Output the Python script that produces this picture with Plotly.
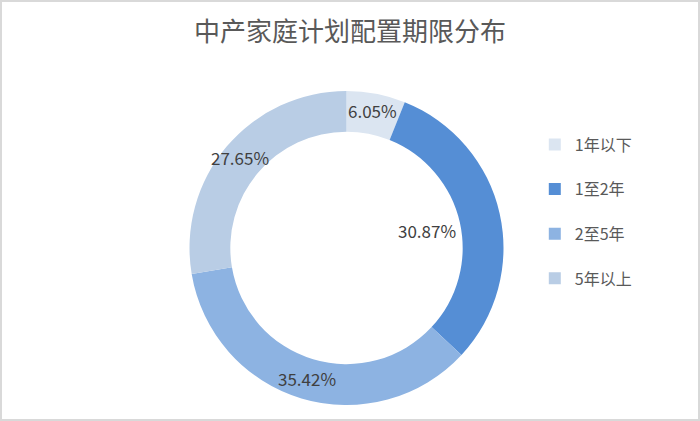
import math
import plotly.graph_objects as go

# data
labels = ["1年以下", "1至2年", "2至5年", "5年以上"]
shares = [6.05, 30.87, 35.42, 27.65]  # percent
colors = ["#DBE5F1", "#558ED5", "#8DB3E2", "#B9CDE5"]

W, H = 700, 421
# donut geometry in pixels
cx, cy = 346.5, 248
r_out = 157
hole = 0.74
# where each percentage label sits from the centre (px); Excel pulled the 2nd one inwards
label_radius = [140, 82, 136, 140]

# blank second line makes legend rows taller, like the Excel original
legend_names = [s + "<br> " for s in labels]

fig = go.Figure()

fig.add_trace(
    go.Pie(
        labels=legend_names,
        values=shares,
        sort=False,
        direction="clockwise",
        rotation=0,
        hole=hole,
        marker=dict(colors=colors, line=dict(color="white", width=0)),
        textinfo="none",
        hoverinfo="label+value",
        domain=dict(
            x=[(cx - r_out) / W, (cx + r_out) / W],
            y=[(H - cy - r_out) / H, (H - cy + r_out) / H],
        ),
    )
)

# percentage labels at the middle angle of each slice
annotations = []
total = sum(shares)
start = 0.0
for v, rr in zip(shares, label_radius):
    mid = (start + v / 2) / total * 2 * math.pi
    start += v
    px = cx + rr * math.sin(mid)
    py = cy - rr * math.cos(mid)
    annotations.append(
        dict(
            x=px / W,
            y=1 - py / H,
            xref="paper",
            yref="paper",
            xanchor="center",
            yanchor="middle",
            text=f"{v:.2f}%",
            showarrow=False,
            font=dict(size=17, color="#404040"),
        )
    )

fig.update_layout(
    width=W,
    height=H,
    margin=dict(l=0, r=0, t=0, b=0),
    paper_bgcolor="white",
    font=dict(family="Noto Sans CJK SC, Noto Sans, sans-serif", color="#595959"),
    title=dict(
        text="中产家庭计划配置期限分布",
        x=0.5,
        xanchor="center",
        y=1 - 32 / H,
        yanchor="middle",
        font=dict(size=26, color="#595959"),
    ),
    legend=dict(
        x=0.764,
        xanchor="left",
        y=0.697,
        yanchor="top",
        valign="top",
        font=dict(size=16, color="#595959"),
        itemclick=False,
    ),
    annotations=annotations,
    shapes=[
        dict(
            type="rect",
            xref="paper",
            yref="paper",
            x0=0,
            x1=1,
            y0=0,
            y1=1,
            line=dict(color="#D9D9D9", width=4),
        )
    ],
)

# drop the browser's default body margin so the chart fills the window
fig.write_html(
    "out.html",
    config={"displayModeBar": False},
    post_script="document.body.style.margin='0';",
)
